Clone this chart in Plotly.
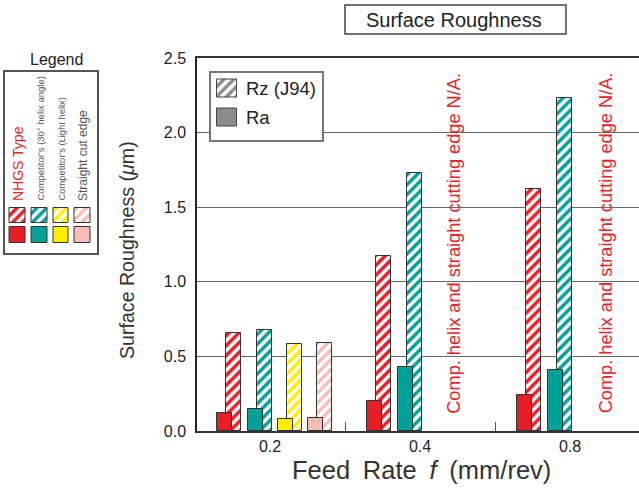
import plotly.graph_objects as go

W, H = 639, 490

# ---- data -------------------------------------------------------------
feed_rates = ["0.2", "0.4", "0.8"]
tool_types = [
    "NHGS Type",
    "Competitor's (30° helix angle)",
    "Competitor's (Light helix)",
    "Straight cut edge",
]
# Rz (J94) – max height roughness, µm
rz_nhgs = [0.66, 1.17, 1.62]
rz_comp30 = [0.68, 1.73, 2.23]
rz_light = [0.58, None, None]
rz_straight = [0.59, None, None]
# Ra – arithmetic mean roughness, µm
ra_nhgs = [0.12, 0.20, 0.24]
ra_comp30 = [0.15, 0.43, 0.41]
ra_light = [0.08, None, None]
ra_straight = [0.09, None, None]

na_note = "Comp. helix and straight cutting edge N/A."
na_groups = [1, 2]

rz_series = [rz_nhgs, rz_comp30, rz_light, rz_straight]
ra_series = [ra_nhgs, ra_comp30, ra_light, ra_straight]

# ---- style ------------------------------------------------------------
colors = ["#E61E26", "#00A097", "#FFEE00", "#F6BCB8"]
label_colors = ["#E61E26", "#555555", "#555555", "#555555"]
label_sizes = [14, 9.5, 9.4, 12]
slot = [-0.303, -0.10, 0.10, 0.30]   # position of each tool inside a group
rz_shift = 0.06                        # hatched Rz bar sits slightly right
bar_w = 0.1
edge = dict(color="#333333", width=1)
FONT = "Liberation Sans, Arial, 'Noto Sans CJK JP', sans-serif"
TXT = "#333333"
EN = "\u2002"   # en space for the wider word gaps of the x title


def px(x):
    return x / W


def py(y):
    return 1 - y / H


def hatch(c):
    return dict(shape="/", fgcolor=c, bgcolor="white", size=7, solidity=0.5)


fig = go.Figure()

# Rz bars (hatched) behind, Ra bars (solid) in front
for k, vals in enumerate(rz_series):
    xs = [g + slot[k] + rz_shift for g, v in enumerate(vals) if v is not None]
    ys = [v for v in vals if v is not None]
    fig.add_trace(go.Bar(x=xs, y=ys, width=bar_w, showlegend=False,
                         marker=dict(color=colors[k], pattern=hatch(colors[k]), line=edge),
                         hoverinfo="skip"))
for k, vals in enumerate(ra_series):
    xs = [g + slot[k] for g, v in enumerate(vals) if v is not None]
    ys = [v for v in vals if v is not None]
    fig.add_trace(go.Bar(x=xs, y=ys, width=bar_w, showlegend=False,
                         marker=dict(color=colors[k], line=edge),
                         hoverinfo="skip"))

# ---- Rz / Ra key: a small framed subplot (x2/y2) in pixel units -------
KEY2 = dict(x0=211, x1=322, y0=72.5, y1=140)
key_grey = "#8C8C8C"
fig.add_trace(go.Bar(x=[227], y=[18], base=[KEY2["y1"] - 97], width=20,
                     xaxis="x2", yaxis="y2", showlegend=False, hoverinfo="skip",
                     marker=dict(color=key_grey, pattern=hatch(key_grey),
                                 line=dict(color="#444444", width=1))))
fig.add_trace(go.Bar(x=[227], y=[18], base=[KEY2["y1"] - 126], width=20,
                     xaxis="x2", yaxis="y2", showlegend=False, hoverinfo="skip",
                     marker=dict(color=key_grey, line=dict(color="#444444", width=1))))

# ---- tool-type key: framed subplot (x3/y3) in pixel units -------------
KEY3 = dict(x0=4.5, x1=97, y0=72, y1=253)
col_x = [17.5, 39.5, 61, 82.5]
fig.add_trace(go.Bar(x=col_x, y=[15] * 4, base=[KEY3["y1"] - 223] * 4, width=15.5,
                     xaxis="x3", yaxis="y3", showlegend=False, hoverinfo="skip",
                     marker=dict(color=colors, line=edge,
                                 pattern=dict(shape="/", fgcolor=colors, bgcolor="white",
                                              size=7, solidity=0.5))))
fig.add_trace(go.Bar(x=col_x, y=[16] * 4, base=[KEY3["y1"] - 243] * 4, width=15.5,
                     xaxis="x3", yaxis="y3", showlegend=False, hoverinfo="skip",
                     marker=dict(color=colors, line=edge)))

annotations = []
shapes = []


def note(x, y, text, size, color="#222222", family=FONT, **kw):
    d = dict(x=x, y=y, xref="paper", yref="paper", text=text, showarrow=False,
             xanchor="center", yanchor="middle",
             font=dict(family=family, size=size, color=color))
    d.update(kw)
    annotations.append(d)


# N/A notes inside the 0.4 and 0.8 groups
for g, xoff in zip(na_groups, [0.225, 0.242]):
    annotations.append(dict(x=g + xoff, y=1.26, xref="x", yref="y", text=na_note,
                            textangle=-90, showarrow=False,
                            xanchor="center", yanchor="middle",
                            font=dict(family=FONT, size=18.2, color="#E8242B")))

# axis titles
note(px(421), py(470), f"Feed{EN}Rate{EN}<i>f</i>{EN}(mm/rev)", 25.5, TXT)
note(px(127), py(250), "Surface Roughness (<i>μ</i>m)", 19.6, TXT, textangle=-90)

# chart title in a frame
shapes.append(dict(type="rect", xref="paper", yref="paper",
                   x0=px(345), x1=px(566), y0=py(34), y1=py(5),
                   line=dict(color="#444444", width=1.5), fillcolor="white"))
note(px(454), py(19.5), "Surface Roughness", 20)

# Rz / Ra key labels
note(px(244), py(88.5), "Rz (J94)", 18.5, xanchor="left")
note(px(244), py(117.5), "Ra", 18.5, xanchor="left")

# tool-type key heading and rotated labels
note(px(56), py(59), "Legend", 16)
for k, name in enumerate(tool_types):
    note(px(col_x[k]), py(203), name, label_sizes[k], label_colors[k],
         yanchor="bottom", textangle=-90)

frame = dict(showticklabels=False, ticks="", showgrid=False, zeroline=False,
             showline=True, mirror=True, fixedrange=True, automargin=False)

fig.update_layout(
    width=W, height=H, template="none",
    margin=dict(l=0, r=0, t=0, b=0, pad=0),
    paper_bgcolor="white", plot_bgcolor="white",
    barmode="overlay", bargap=0,
    font=dict(family=FONT, color=TXT),
    showlegend=False,
    xaxis=dict(domain=[px(197), 1], range=[-73 / 150, (W - 270) / 150],
               tickvals=[0, 1, 2], ticktext=feed_rates, ticks="",
               showgrid=False, zeroline=False, automargin=False,
               showline=True, mirror=True, linecolor="#333333", linewidth=1.5,
               tickfont=dict(family=FONT, size=16, color="#222222"),
               minor=dict(tickvals=[0.5, 1.5], ticks="inside", ticklen=9,
                          tickcolor="#555555", tickwidth=1.2, showgrid=False)),
    yaxis=dict(domain=[py(431), py(58)], range=[0, 2.5],
               tickvals=[0, 0.5, 1.0, 1.5, 2.0, 2.5], tickformat=".1f", ticks="",
               showgrid=True, gridcolor="#666666", gridwidth=1, zeroline=False,
               automargin=False, ticklabelstandoff=6,
               showline=True, linecolor="#222222", linewidth=1.5,
               tickfont=dict(family=FONT, size=16, color="#222222")),
    xaxis2=dict(domain=[px(KEY2["x0"]), px(KEY2["x1"])], range=[KEY2["x0"], KEY2["x1"]],
                anchor="y2", linecolor="#777777", linewidth=1.5, **frame),
    yaxis2=dict(domain=[py(KEY2["y1"]), py(KEY2["y0"])], range=[0, KEY2["y1"] - KEY2["y0"]],
                anchor="x2", linecolor="#777777", linewidth=1.5, **frame),
    xaxis3=dict(domain=[px(KEY3["x0"]), px(KEY3["x1"])], range=[KEY3["x0"], KEY3["x1"]],
                anchor="y3", linecolor="#555555", linewidth=1.5, **frame),
    yaxis3=dict(domain=[py(KEY3["y1"]), py(KEY3["y0"])], range=[0, KEY3["y1"] - KEY3["y0"]],
                anchor="x3", linecolor="#555555", linewidth=1.5, **frame),
    annotations=annotations,
    shapes=shapes,
)

fig.write_html("out.html")
